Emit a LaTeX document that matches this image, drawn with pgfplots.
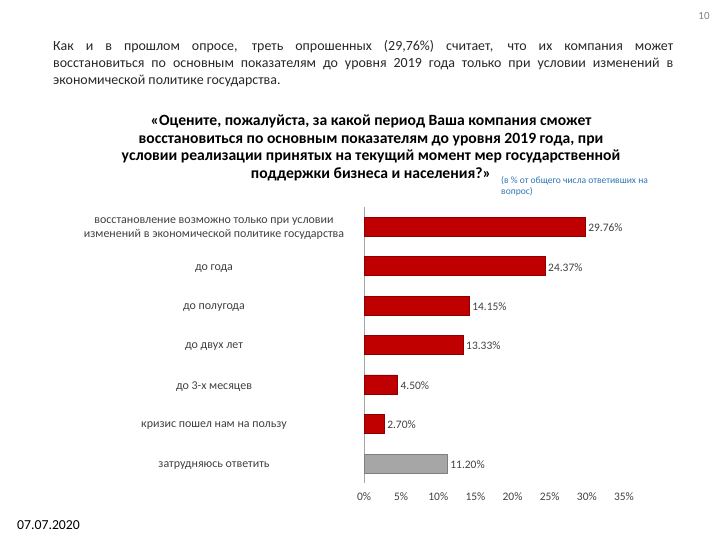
\documentclass[border=0pt]{standalone}
\usepackage{fontspec}
\setmainfont{Carlito}
\usepackage{pgfplots}
\pgfplotsset{compat=1.18}
\definecolor{barred}{HTML}{C00000}
\definecolor{barrededge}{HTML}{8E0000}
\definecolor{bargray}{HTML}{A6A6A6}
\definecolor{bargrayedge}{HTML}{7F7F7F}
\definecolor{lbl}{HTML}{404040}
\definecolor{note}{HTML}{2E75B6}
\definecolor{body}{HTML}{262626}
\begin{document}
\begin{tikzpicture}
\path[use as bounding box] (0,0) rectangle (720bp,540bp);
% page number
\node[anchor=base, inner sep=0, text=gray, font=\fontsize{11}{13}\selectfont] at (704bp,520bp) {10};
% paragraph
\node[anchor=base west, inner sep=0, text=body] at (53bp,489bp) {\begin{minipage}[t]{620bp}\fontsize{14}{17}\selectfont
Как и в прошлом опросе, треть опрошенных (29,76\%) считает, что их компания может\linebreak
восстановиться по основным показателям до уровня 2019 года только при условии изменений в\linebreak
экономической политике государства.\end{minipage}};
% title
\node[anchor=base, inner sep=0] at (371bp,414bp) {\begin{minipage}[t]{560bp}\centering\fontsize{15.7}{17.4}\selectfont\bfseries
«Оцените, пожалуйста, за какой период Ваша компания сможет\\
восстановиться по основным показателям до уровня 2019 года, при\\
условии реализации принятых на текущий момент мер государственной\\
поддержки бизнеса и населения?»\end{minipage}};
% note
\node[anchor=base west, inner sep=0, text=note] at (501bp,356bp) {\begin{minipage}[t]{190bp}\raggedright\fontsize{9.6}{11}\selectfont
(в \% от общего числа ответивших на\\вопрос)\end{minipage}};
% date
\node[anchor=base west, inner sep=0, text=black, font=\fontsize{13.8}{15}\selectfont] at (17bp,11bp) {07.07.2020};

\begin{axis}[
  at={(364bp,57bp)}, anchor=south west,
  scale only axis, width=260bp, height=276bp,
  xmin=0, xmax=35, ymin=-0.5, ymax=6.5,
  xbar, bar width=19bp, bar shift=0pt,
  clip=false,
  axis lines=left,
  axis line style={-},
  x axis line style={draw=none},
  y axis line style={draw=bargray, line width=0.8pt},
  major tick length=0pt,
  /pgf/number format/assume math mode=true,
  xtick={0,5,10,15,20,25,30,35},
  xticklabels={0\%,5\%,10\%,15\%,20\%,25\%,30\%,35\%},
  xticklabel style={anchor=base, yshift=-18bp, text=lbl, font=\fontsize{11.5}{13}\selectfont},
  ytick={0,1,2,3,4,5,6},
  yticklabels={затрудняюсь ответить, кризис пошел нам на пользу, до 3-х месяцев, до двух лет, до полугода, до года, {восстановление возможно только при условии\\изменений в экономической политике государства}},
  yticklabel style={anchor=center, xshift=-150bp, yshift=-2bp, align=center, text=lbl, font=\fontsize{12}{13.5}\selectfont},
  nodes near coords={\pgfmathprintnumber[fixed,fixed zerofill,precision=2]{\pgfplotspointmeta}\%},
  nodes near coords style={anchor=west, inner sep=3bp, yshift=-1bp, text=lbl, font=\fontsize{11.5}{13}\selectfont},
]
\addplot[fill=barred, draw=barrededge] coordinates {(29.76,6) (24.37,5) (14.15,4) (13.33,3) (4.50,2) (2.70,1)};
\addplot[fill=bargray, draw=bargrayedge] coordinates {(11.20,0)};
\end{axis}
\end{tikzpicture}
\end{document}
